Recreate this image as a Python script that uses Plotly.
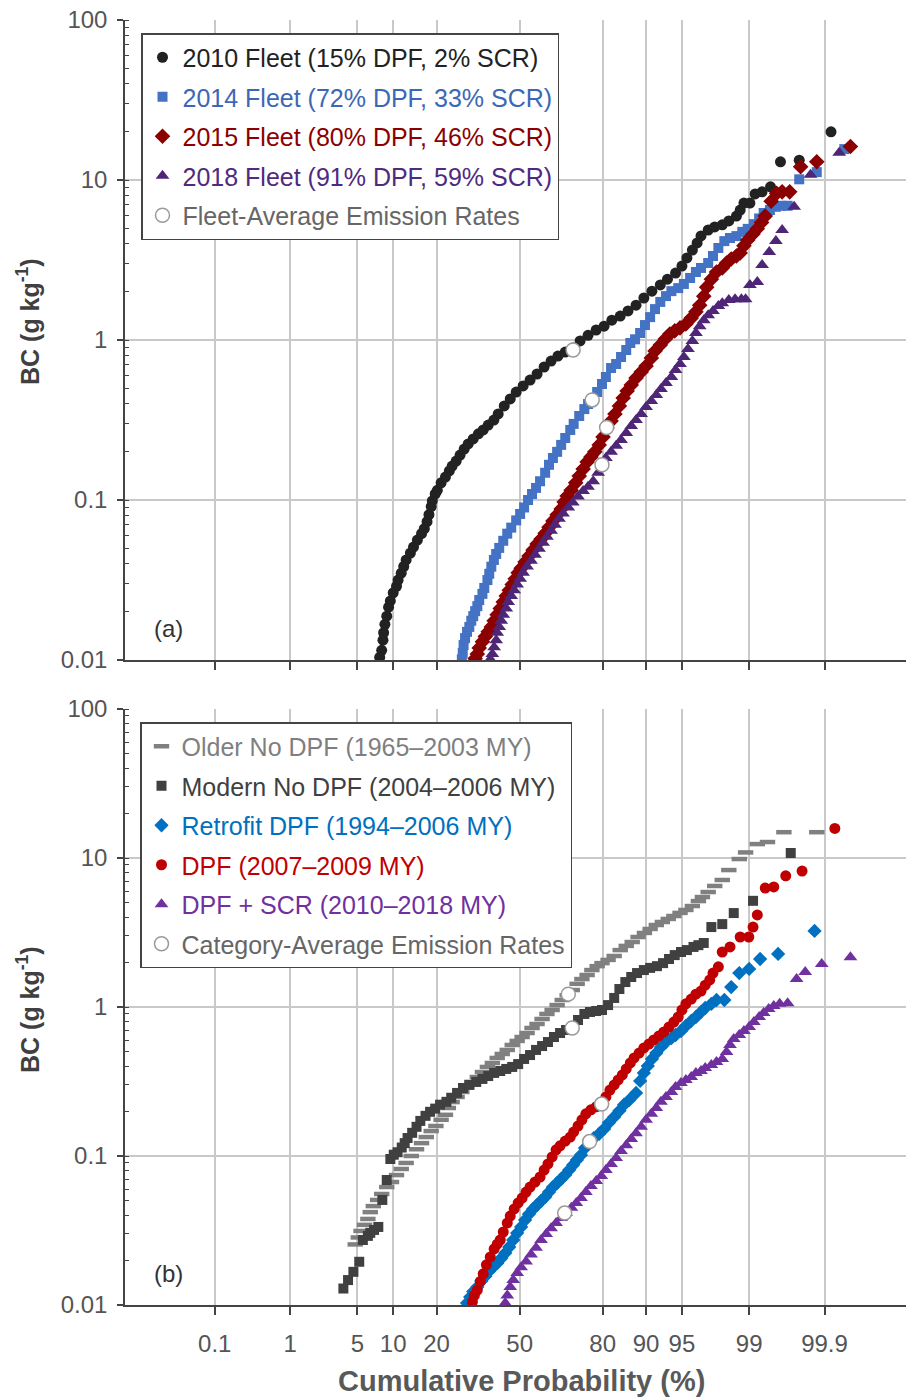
import plotly.graph_objects as go
from statistics import NormalDist

# ---------------- data: (cumulative probability %, BC g/kg) ----------------
# Panel (a): fleets
fleet2010_p = [7.8, 8.1, 8.3, 8.4, 8.6, 8.9, 9.2, 9.5, 10.0, 10.6, 10.9, 11.5, 12.0, 12.5, 13.4, 14.1, 15.0, 16.0, 16.7, 17.4,
               17.9, 18.5, 18.8, 19.6, 20.2, 21.3, 22.6, 23.8, 24.7, 26.0, 27.3, 28.7, 30.1, 31.9, 33.8, 35.6, 37.5, 39.7, 41.4, 43.8,
               46.2, 48.6, 51.4, 54.2, 57.0, 59.8, 62.5, 65.1, 67.8, 70.6, 73.0, 75.6, 78.1, 80.4, 82.5, 84.6, 86.4, 88.1, 89.6, 91.0,
               92.3, 93.3, 94.3, 95.0, 95.5, 96.0, 96.4, 96.7, 97.2, 97.6, 98.0, 98.3, 98.6, 98.73, 98.85, 99.02, 99.15, 99.30, 99.45, 99.59,
               99.77, 99.92]
fleet2010_bc = [0.0104, 0.0115, 0.0133, 0.0148, 0.0167, 0.0188, 0.0214, 0.0234, 0.0263, 0.0289, 0.0316, 0.0349, 0.0384, 0.0422, 0.0466, 0.0508, 0.0562, 0.0616, 0.0662, 0.0732,
                0.081, 0.091, 0.0986, 0.109, 0.115, 0.128, 0.139, 0.152, 0.163, 0.175, 0.191, 0.208, 0.224, 0.241, 0.259, 0.274, 0.294, 0.316, 0.345, 0.387,
                0.428, 0.473, 0.516, 0.562, 0.613, 0.678, 0.739, 0.794, 0.841, 0.891, 0.986, 1.07, 1.155, 1.22, 1.33, 1.41, 1.52, 1.65, 1.83, 2.02,
                2.21, 2.40, 2.62, 2.90, 3.26, 3.65, 4.04, 4.47, 4.87, 5.09, 5.25, 5.55, 5.95, 6.49, 7.18, 7.18, 8.18, 8.43, 9.07, 13.0,
                13.3, 20.0]

fleet2014_p = [27.9, 28.2, 28.5, 29.0, 29.7, 30.5, 31.2, 31.9, 32.6, 33.4, 34.1, 35.3, 36.0, 37.2, 37.9, 38.7, 39.7, 40.6, 41.8, 43.4,
               45.0, 46.6, 48.6, 50.2, 51.8, 53.4, 55.0, 56.6, 58.2, 60.2, 61.7, 63.2, 64.8, 66.3, 67.8, 69.6, 70.8, 72.7, 74.4, 75.6,
               76.8, 78.4, 79.8, 80.9, 82.3, 83.6, 84.8, 86.0, 86.9, 87.9, 88.9, 89.8, 90.7, 91.5, 92.3, 93.1, 93.8, 94.6, 95.2, 95.8,
               96.3, 96.7, 97.2, 97.5, 97.8, 98.1, 98.35, 98.6, 98.8, 98.96, 99.12, 99.24, 99.33, 99.44, 99.53, 99.60, 99.67, 99.77, 99.87, 99.95]
fleet2014_bc = [0.0101, 0.0111, 0.0124, 0.0137, 0.0150, 0.0161, 0.0176, 0.0188, 0.0202, 0.0217, 0.0237, 0.0259, 0.0282, 0.0316, 0.0346, 0.0383, 0.0422, 0.0460, 0.0502, 0.0556,
                0.0616, 0.0672, 0.0746, 0.0818, 0.0898, 0.100, 0.109, 0.119, 0.131, 0.148, 0.166, 0.183, 0.200, 0.221, 0.244, 0.274, 0.299, 0.335, 0.370, 0.398,
                0.422, 0.473, 0.531, 0.587, 0.668, 0.708, 0.783, 0.866, 0.958, 1.01, 1.106, 1.24, 1.39, 1.56, 1.73, 1.88, 2.02, 2.11, 2.24, 2.44,
                2.66, 2.82, 3.03, 3.35, 3.76, 4.15, 4.34, 4.46, 4.74, 4.95, 5.30, 5.75, 6.22, 6.49, 6.8, 6.9, 6.9, 10.1, 11.2, 15.6]

fleet2015_p = [32.6, 33.4, 34.1, 35.3, 36.4, 37.5, 38.7, 39.8, 41.0, 42.2, 43.4, 44.6, 45.8, 47.0, 48.2, 49.4, 50.6, 52.2, 53.8, 55.4,
               57.0, 58.6, 60.2, 61.7, 63.2, 64.8, 66.3, 67.4, 68.5, 69.9, 71.5, 72.7, 74.0, 75.3, 76.5, 77.7, 79.0, 80.1, 81.2, 82.3,
               83.3, 84.4, 85.3, 86.2, 87.1, 88.1, 89.1, 90.0, 90.9, 91.5, 92.3, 93.0, 93.6, 94.2, 94.8, 95.4, 95.9, 96.3, 96.6, 96.9,
               97.1, 97.4, 97.7, 98.0, 98.2, 98.4, 98.6, 98.73, 98.85, 98.96, 99.1, 99.2, 99.29, 99.36, 99.46, 99.54, 99.61, 99.69, 99.78, 99.87,
               99.96]
fleet2015_bc = [0.0102, 0.0109, 0.0119, 0.0130, 0.0140, 0.0150, 0.0161, 0.0176, 0.0192, 0.0210, 0.0230, 0.0251, 0.0273, 0.0296, 0.0322, 0.0351, 0.0375, 0.0410, 0.0447, 0.0487,
                0.0531, 0.0570, 0.0619, 0.0676, 0.0740, 0.0808, 0.0880, 0.0973, 0.106, 0.115, 0.128, 0.141, 0.156, 0.173, 0.186, 0.200, 0.221, 0.248, 0.282, 0.312,
                0.345, 0.387, 0.434, 0.480, 0.523, 0.579, 0.631, 0.688, 0.772, 0.854, 0.931, 1.015, 1.09, 1.14, 1.19, 1.26, 1.37, 1.50, 1.65, 1.88,
                2.14, 2.40, 2.66, 2.82, 3.03, 3.21, 3.35, 3.50, 3.88, 4.22, 4.60, 4.96, 5.43, 5.95, 7.36, 8.25, 8.43, 8.43, 12.1, 13.0,
                16.2]

fleet2018_p = [38.3, 39.1, 39.8, 40.6, 41.0, 41.8, 42.6, 43.4, 44.6, 45.4, 46.6, 47.8, 49.0, 50.2, 51.4, 53.0, 54.6, 56.2, 57.8, 59.4,
               60.9, 62.5, 64.0, 65.5, 67.0, 68.9, 70.5, 72.3, 74.0, 75.6, 77.2, 78.7, 79.8, 80.9, 82.3, 83.6, 84.8, 86.0, 87.1, 88.1,
               89.1, 90.0, 90.9, 91.7, 92.4, 93.1, 93.8, 94.3, 94.8, 95.2, 95.6, 96.0, 96.3, 96.6, 96.9, 97.2, 97.5, 97.8, 98.0, 98.3,
               98.55, 98.77, 98.9, 99.02, 99.2, 99.3, 99.43, 99.53, 99.61, 99.73, 99.84, 99.94]
fleet2018_bc = [0.0101, 0.0109, 0.0120, 0.0133, 0.0148, 0.0161, 0.0176, 0.0192, 0.0210, 0.0230, 0.0251, 0.0273, 0.0296, 0.0322, 0.0351, 0.0384, 0.0417, 0.0455, 0.0496, 0.0541,
                0.0590, 0.0643, 0.0701, 0.0764, 0.0823, 0.0898, 0.0966, 0.105, 0.114, 0.121, 0.131, 0.148, 0.166, 0.183, 0.200, 0.218, 0.237, 0.262, 0.290, 0.316,
                0.345, 0.381, 0.416, 0.453, 0.494, 0.539, 0.587, 0.649, 0.708, 0.783, 0.878, 0.986, 1.106, 1.22, 1.33, 1.43, 1.52, 1.63, 1.70, 1.78,
                1.80, 1.80, 1.80, 2.21, 2.30, 2.94, 3.55, 4.15, 4.87, 6.81, 10.8, 14.8]

fleet_avg_p = [70.6, 76.9, 81.1, 79.8]
fleet_avg_bc = [0.866, 0.422, 0.284, 0.166]

# Panel (b): technology categories
older_p = [4.78, 5.1, 5.4, 5.8, 6.2, 6.5, 6.9, 7.5, 8.1, 8.9, 9.7, 10.6, 11.5, 12.5, 13.6, 14.8, 16.0, 17.2, 18.5, 19.8,
           21.3, 22.6, 23.5, 24.7, 26.3, 27.9, 29.6, 31.5, 33.4, 35.3, 37.2, 39.1, 41.0, 43.0, 45.0, 47.0, 49.0, 51.0, 53.0, 55.0,
           57.0, 59.0, 60.9, 62.9, 64.8, 66.7, 68.5, 70.3, 72.0, 73.6, 75.3, 76.8, 78.4, 79.8, 81.5, 83.1, 84.6, 86.0, 87.3, 88.5,
           89.7, 90.7, 91.7, 92.6, 93.4, 94.1, 94.8, 95.4, 96.0, 96.5, 96.8, 97.2, 97.6, 98.0, 98.3, 98.7, 98.9, 99.2, 99.4, 99.63,
           99.87]
older_bc = [0.0255, 0.0284, 0.0314, 0.0345, 0.0378, 0.0420, 0.0461, 0.0507, 0.0556, 0.0619, 0.0669, 0.0745, 0.0818, 0.0898, 0.100, 0.111, 0.122, 0.134, 0.147, 0.159,
            0.175, 0.189, 0.210, 0.230, 0.249, 0.269, 0.290, 0.314, 0.339, 0.366, 0.396, 0.421, 0.455, 0.484, 0.515, 0.556, 0.592, 0.629, 0.669, 0.723,
            0.769, 0.831, 0.898, 0.955, 1.03, 1.114, 1.20, 1.30, 1.43, 1.54, 1.64, 1.77, 1.88, 1.97, 2.07, 2.20, 2.41, 2.57, 2.73, 2.95,
            3.14, 3.34, 3.55, 3.72, 3.90, 4.08, 4.28, 4.48, 4.76, 5.14, 5.47, 5.91, 6.49, 7.12, 8.30, 9.84, 10.9, 12.4, 12.8, 14.9,
            14.9]

modern_p = [3.7, 4.1, 4.6, 5.2, 5.6, 6.2, 6.5, 7.0, 7.6, 8.2, 8.9, 9.5, 10.1, 10.8, 11.6, 12.2, 12.8, 13.8, 14.8, 15.7,
            17.0, 18.2, 19.6, 21.0, 22.9, 24.4, 26.3, 28.3, 30.5, 33.0, 35.3, 37.5, 39.8, 42.2, 44.6, 47.0, 49.4, 51.8, 54.2, 56.6,
            59.0, 61.3, 63.6, 65.9, 68.1, 70.3, 72.3, 74.4, 76.2, 78.1, 79.8, 81.5, 83.1, 84.4, 85.8, 87.1, 88.3, 89.6, 90.7, 91.8,
            92.7, 93.5, 94.2, 94.9, 95.5, 96.1, 96.5, 96.9, 97.4, 98.0, 98.5, 99.1, 99.70]
modern_bc = [0.0129, 0.0147, 0.0167, 0.0195, 0.0273, 0.0291, 0.0305, 0.0319, 0.0334, 0.0507, 0.069, 0.0955, 0.102, 0.106, 0.114, 0.122, 0.132, 0.143, 0.157, 0.172,
             0.186, 0.198, 0.208, 0.221, 0.231, 0.246, 0.265, 0.286, 0.300, 0.314, 0.329, 0.344, 0.361, 0.372, 0.384, 0.396, 0.414, 0.448, 0.476, 0.515,
             0.547, 0.582, 0.629, 0.669, 0.701, 0.723, 0.818, 0.898, 0.926, 0.940, 0.955, 1.03, 1.15, 1.32, 1.47, 1.59, 1.69, 1.77, 1.83, 1.88,
             1.97, 2.10, 2.23, 2.34, 2.41, 2.53, 2.60, 2.69, 3.44, 3.60, 4.27, 5.16, 10.8]

retrofit_p = [29.7, 30.8, 31.9, 33.4, 34.9, 36.4, 37.9, 39.4, 41.0, 42.6, 44.2, 45.8, 47.4, 49.0, 50.6, 52.2, 53.8, 55.4, 57.0, 58.6,
              60.2, 61.7, 63.2, 64.8, 66.3, 67.8, 69.2, 70.6, 71.9, 73.3, 74.6, 75.9, 77.4, 79.0, 80.4, 81.7, 83.1, 84.4, 85.5, 86.7,
              88.1, 88.9, 89.6, 90.3, 91.0, 91.7, 92.4, 93.1, 93.8, 94.3, 94.9, 95.4, 95.9, 96.3, 96.7, 97.0, 97.4, 97.7, 98.1, 98.4,
              98.7, 99.0, 99.26, 99.56, 99.86]
retrofit_bc = [0.0103, 0.0113, 0.0123, 0.0132, 0.0145, 0.0156, 0.0169, 0.0180, 0.0191, 0.0206, 0.0223, 0.0245, 0.0273, 0.0304, 0.0334, 0.0372, 0.0408, 0.0441, 0.0469, 0.0499,
               0.0530, 0.0573, 0.0619, 0.0659, 0.0701, 0.0746, 0.0805, 0.0870, 0.094, 0.1016, 0.113, 0.124, 0.132, 0.141, 0.152, 0.167, 0.183, 0.201, 0.221, 0.238,
               0.265, 0.319, 0.361, 0.402, 0.448, 0.491, 0.539, 0.582, 0.619, 0.649, 0.690, 0.746, 0.806, 0.857, 0.926, 0.985, 1.05, 1.114, 1.114, 1.36,
               1.69, 1.80, 2.10, 2.27, 3.24]

dpf_p = [31.6, 32.3, 33.4, 34.5, 35.6, 36.8, 38.3, 39.8, 41.0, 42.2, 43.4, 45.0, 46.2, 47.8, 49.4, 51.0, 52.6, 54.2, 56.2, 58.2,
         59.8, 61.3, 62.9, 64.4, 65.9, 67.8, 69.6, 70.8, 72.3, 73.6, 74.9, 76.5, 78.1, 79.8, 80.9, 82.0, 83.1, 84.1, 85.1, 86.0,
         86.9, 87.7, 88.7, 89.6, 90.5, 91.3, 92.1, 92.8, 93.5, 94.1, 94.6, 95.0, 95.4, 95.9, 96.3, 96.7, 97.0, 97.3, 97.5, 97.8,
         98.0, 98.35, 98.73, 98.99, 99.1, 99.2, 99.36, 99.50, 99.65, 99.79, 99.93]
dpf_bc = [0.0105, 0.0116, 0.0126, 0.0144, 0.0162, 0.0186, 0.0210, 0.0238, 0.0256, 0.0273, 0.0309, 0.0355, 0.0395, 0.0441, 0.0484, 0.0522, 0.0573, 0.0619, 0.0669, 0.0723,
          0.0805, 0.0884, 0.0985, 0.110, 0.117, 0.126, 0.134, 0.145, 0.159, 0.175, 0.192, 0.204, 0.214, 0.224, 0.249, 0.277, 0.300, 0.324, 0.350, 0.384,
          0.421, 0.455, 0.491, 0.531, 0.564, 0.601, 0.639, 0.680, 0.734, 0.793, 0.857, 0.955, 1.05, 1.13, 1.22, 1.28, 1.40, 1.52, 1.69, 1.86,
          2.34, 2.53, 2.95, 2.95, 3.44, 4.15, 6.28, 6.39, 7.59, 8.17, 15.8]

dpfscr_p = [44.2, 45.0, 46.2, 47.4, 49.0, 50.6, 52.6, 54.6, 56.6, 58.6, 60.6, 62.5, 64.4, 66.3, 68.1, 70.0, 71.7, 73.3, 74.9, 76.5,
            78.1, 79.6, 80.9, 82.3, 83.6, 84.8, 86.0, 87.1, 88.1, 89.1, 90.0, 90.9, 91.7, 92.4, 93.1, 93.8, 94.3, 94.9, 95.4, 95.9,
            96.3, 96.7, 97.0, 97.4, 97.7, 98.0, 98.2, 98.35, 98.5, 98.7, 98.85, 99.0, 99.12, 99.24, 99.33, 99.42, 99.50, 99.58, 99.67, 99.75,
            99.81, 99.89, 99.96]
dpfscr_bc = [0.0103, 0.0116, 0.0132, 0.0147, 0.0164, 0.0179, 0.0196, 0.0218, 0.0242, 0.0273, 0.0299, 0.0328, 0.0355, 0.0384, 0.0415, 0.0449, 0.0484, 0.0522, 0.0573, 0.0629,
             0.0680, 0.0734, 0.0805, 0.0884, 0.097, 0.108, 0.118, 0.130, 0.142, 0.157, 0.175, 0.192, 0.210, 0.231, 0.249, 0.269, 0.290, 0.309, 0.324, 0.339,
             0.361, 0.372, 0.390, 0.408, 0.428, 0.448, 0.499, 0.556, 0.610, 0.649, 0.690, 0.734, 0.793, 0.857, 0.912, 0.970, 1.015, 1.05, 1.06, 1.54,
             1.72, 1.94, 2.16]

category_avg_p = [68.9, 70.3, 76.1, 79.7, 67.6]
category_avg_bc = [1.22, 0.723, 0.125, 0.223, 0.0414]

tick_percent = [0.1, 1, 5, 10, 20, 50, 80, 90, 95, 99, 99.9]
tick_labels = ["0.1", "1", "5", "10", "20", "50", "80", "90", "95", "99", "99.9"]

# ---------------- figure ----------------
ND = NormalDist()


def zs(ps):
    return [ND.inv_cdf(v / 100.0) for v in ps]


FONT = "Liberation Sans, Arial, Helvetica, sans-serif"
fig = go.Figure()


def add_series(p, bc, name, color, symbol, size, xa, ya, legend, text_color=None, line_w=0):
    tc = text_color or color
    mk = dict(symbol=symbol, size=size, color=color, line=dict(width=line_w, color=color))
    fig.add_trace(go.Scatter(
        x=zs(p), y=bc, mode="markers", marker=mk,
        name=f"<span style='color:{tc}'>{name}</span>",
        xaxis=xa, yaxis=ya, legend=legend, legendgroup=name, showlegend=True,
        hoverinfo="skip"))


# panel (a)
add_series(fleet2010_p, fleet2010_bc, "2010 Fleet (15% DPF, 2% SCR)", "#222222", "circle", 11, "x2", "y2", "legend")
add_series(fleet2014_p, fleet2014_bc, "2014 Fleet (72% DPF, 33% SCR)", "#4472C4", "square", 10, "x2", "y2", "legend", "#3d67b5")
add_series(fleet2015_p, fleet2015_bc, "2015 Fleet (80% DPF, 46% SCR)", "#8B0000", "diamond", 12, "x2", "y2", "legend")
add_series(fleet2018_p, fleet2018_bc, "2018 Fleet (91% DPF, 59% SCR)", "#4E2577", "triangle-up", 12, "x2", "y2", "legend", "#4f2a80")
fig.add_trace(go.Scatter(
    x=zs(fleet_avg_p), y=fleet_avg_bc, mode="markers",
    marker=dict(symbol="circle", size=14, color="white", line=dict(width=1.5, color="#9a9a9a")),
    name="<span style='color:#666666'>Fleet-Average Emission Rates</span>",
    xaxis="x2", yaxis="y2", legend="legend", legendgroup="favg", hoverinfo="skip"))

# panel (b)
add_series(older_p, older_bc, "Older No DPF (1965–2003 MY)", "#808080", "line-ew", 11, "x", "y", "legend2", "#7f7f7f", line_w=4.5)
add_series(modern_p, modern_bc, "Modern No DPF (2004–2006 MY)", "#404040", "square", 10, "x", "y", "legend2")
add_series(retrofit_p, retrofit_bc, "Retrofit DPF (1994–2006 MY)", "#0070C0", "diamond", 11, "x", "y", "legend2")
add_series(dpf_p, dpf_bc, "DPF (2007–2009 MY)", "#C00000", "circle", 11, "x", "y", "legend2")
add_series(dpfscr_p, dpfscr_bc, "DPF + SCR (2010–2018 MY)", "#7030A0", "triangle-up", 12, "x", "y", "legend2")
fig.add_trace(go.Scatter(
    x=zs(category_avg_p), y=category_avg_bc, mode="markers",
    marker=dict(symbol="circle", size=14, color="white", line=dict(width=1.5, color="#9a9a9a")),
    name="<span style='color:#666666'>Category-Average Emission Rates</span>",
    xaxis="x", yaxis="y", legend="legend2", legendgroup="cavg", hoverinfo="skip"))

W, H = 906, 1399
ML, MR, MT, MB = 125, 0, 20, 94
PH = H - MT - MB


def py(pix):  # pixel y -> paper y
    return (H - MB - pix) / PH


def px(pix):  # pixel x -> paper x
    return (pix - ML) / (W - ML - MR)


xcommon = dict(
    range=[-4.0, 3.916], tickmode="array", tickvals=zs(tick_percent), ticktext=tick_labels,
    ticks="outside", ticklen=8, tickwidth=1.5, tickcolor="#444",
    showgrid=True, gridcolor="#c9c9c9", gridwidth=1.6, zeroline=False,
    showline=True, linecolor="#444", linewidth=1.5,
    tickfont=dict(family=FONT, size=24, color="#555555"), ticklabelstandoff=8,
)
ycommon = dict(
    type="log", range=[-2, 2], dtick=1,
    ticks="outside", ticklen=6, tickwidth=1.5, tickcolor="#444",
    minor=dict(ticks="inside", ticklen=4, tickwidth=1, tickcolor="#444", dtick="D1", showgrid=False),
    showgrid=True, gridcolor="#c9c9c9", gridwidth=1.6, zeroline=False,
    showline=True, linecolor="#444", linewidth=1.5,
    tickfont=dict(family=FONT, size=24, color="#555555"), ticklabelstandoff=5,
)

legcommon = dict(
    xanchor="left", yanchor="top", bgcolor="white", bordercolor="#444444", borderwidth=1.5,
    font=dict(family=FONT, size=25, color="#333333"), tracegroupgap=4, itemsizing="trace",
)

ann_font = dict(family=FONT, size=24, color="#333333")

fig.update_layout(
    width=W, height=H, margin=dict(l=ML, r=MR, t=MT, b=MB),
    plot_bgcolor="white", paper_bgcolor="white",
    showlegend=True,
    xaxis=dict(domain=[0, 1], anchor="y", showticklabels=True, **xcommon),
    yaxis=dict(domain=[0, py(709)], anchor="x", **ycommon),
    xaxis2=dict(domain=[0, 1], anchor="y2", showticklabels=False, **xcommon),
    yaxis2=dict(domain=[py(660), 1], anchor="x2", **ycommon),
    legend=dict(x=px(141), y=py(33), **legcommon),
    legend2=dict(x=px(140), y=py(722), **legcommon),
    annotations=[
        dict(text="(a)", x=px(168), y=py(628), xref="paper", yref="paper", showarrow=False,
             xanchor="center", yanchor="middle", font=ann_font),
        dict(text="(b)", x=px(168), y=py(1273), xref="paper", yref="paper", showarrow=False,
             xanchor="center", yanchor="middle", font=ann_font),
        dict(text="<b>BC (g kg<sup>-1</sup>)</b>", textangle=-90, x=px(28), y=py(322), xref="paper", yref="paper",
             xanchor="center", yanchor="middle", showarrow=False, font=dict(family=FONT, size=25, color="#404040")),
        dict(text="<b>BC (g kg<sup>-1</sup>)</b>", textangle=-90, x=px(28), y=py(1010), xref="paper", yref="paper",
             xanchor="center", yanchor="middle", showarrow=False, font=dict(family=FONT, size=25, color="#404040")),
        dict(text="<b>Cumulative Probability (%)</b>", x=px(521), y=py(1381), xref="paper", yref="paper",
             xanchor="center", yanchor="middle", showarrow=False, font=dict(family=FONT, size=29, color="#595959")),
    ],
)

fig.write_html("out.html", config={"displayModeBar": False})
